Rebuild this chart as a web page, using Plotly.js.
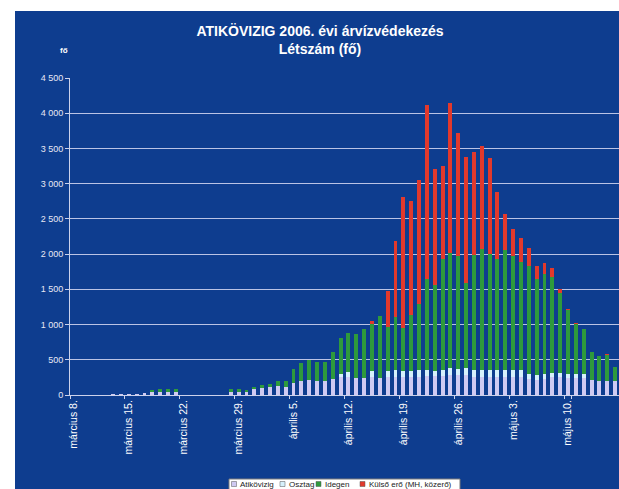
<!DOCTYPE html>
<html>
<head>
<meta charset="utf-8">
<script src="https://cdn.plot.ly/plotly-3.0.1.min.js"></script>
<style>html,body{margin:0;padding:0;background:#fff;}#chart{width:619px;height:489px;}</style>
</head>
<body>
<div id="chart"></div>
<script>
// Categories: one per day, 2006-03-08 .. 2006-05-16
const dates = [
  "március 8.","március 9.","március 10.","március 11.","március 12.","március 13.","március 14.",
  "március 15.","március 16.","március 17.","március 18.","március 19.","március 20.","március 21.",
  "március 22.","március 23.","március 24.","március 25.","március 26.","március 27.","március 28.",
  "március 29.","március 30.","március 31.","április 1.","április 2.","április 3.","április 4.",
  "április 5.","április 6.","április 7.","április 8.","április 9.","április 10.","április 11.",
  "április 12.","április 13.","április 14.","április 15.","április 16.","április 17.","április 18.",
  "április 19.","április 20.","április 21.","április 22.","április 23.","április 24.","április 25.",
  "április 26.","április 27.","április 28.","április 29.","április 30.","május 1.","május 2.",
  "május 3.","május 4.","május 5.","május 6.","május 7.","május 8.","május 9.",
  "május 10.","május 11.","május 12.","május 13.","május 14.","május 15.","május 16."
];
const tickLabels = ["március 8.","március 15.","március 22.","március 29.","április 5.",
  "április 12.","április 19.","április 26.","május 3.","május 10."];

const atikovizig = [
  5,5,5,5,5,8,8,
  8,10,30,40,45,45,45,
  5,5,5,5,5,5,40,
  40,40,85,100,115,130,120,
  165,200,210,200,205,225,250,
  250,245,245,250,245,260,260,
  255,260,260,275,275,275,290,
  285,285,260,260,260,260,260,
  260,260,225,220,225,250,250,
  240,240,235,215,195,195,195
];
const osztag = [
  0,0,0,0,0,0,0,
  0,0,0,0,0,0,0,
  0,0,0,0,0,0,0,
  0,0,0,0,0,0,0,
  0,0,0,0,0,0,50,
  80,0,0,85,0,80,95,
  85,85,95,80,70,85,100,
  90,100,95,95,95,95,95,
  95,95,70,70,70,65,65,
  65,65,65,0,0,0,0
];
const idegen = [
  0,0,0,0,0,0,0,
  0,0,0,30,35,35,35,
  0,0,0,0,0,0,45,
  45,25,35,40,45,75,75,
  205,255,285,265,265,385,505,
  545,620,690,670,880,630,755,
  615,785,930,1290,1215,1565,1630,
  1600,1200,1635,1715,1650,1570,1700,
  1620,1540,1535,1355,1420,1355,1140,
  900,710,635,400,360,375,205
];
const kulsoEro = [
  0,0,0,0,0,0,0,
  0,0,0,0,0,0,0,
  0,0,0,0,0,0,0,
  0,0,0,0,0,0,0,
  0,0,0,0,0,0,0,
  0,0,0,45,0,510,1080,
  1850,1625,1765,2475,1655,1325,2120,
  1750,1790,1465,1470,1360,955,510,
  380,340,260,180,165,140,45,
  10,10,0,0,0,10,0
];
const seriesNames = ["Atikövizig","Osztag","Idegen","Külső erő (MH, közerő)"];
const seriesColors = ["#cfcaf2","#d6f1fb","#2e9a3c","#e2392c"];

const W = 619, H = 489, ML = 70, MR = 0, MT = 78, MB = 94;
const PW = W - ML - MR, PH = H - MT - MB;
const px = v => (v - ML) / PW;          // pixel x -> paper x
const py = v => (H - MB - v) / PH;      // pixel y -> paper y

const seriesData = [atikovizig, osztag, idegen, kulsoEro];
const traces = seriesData.map((vals, i) => ({
  type: "bar",
  x: dates,
  y: vals,
  name: seriesNames[i],
  marker: {color: seriesColors[i], line: {width: 0}},
  hoverinfo: "x+y+name"
}));

const font = "Arial, 'Liberation Sans', sans-serif";
const light = "rgba(215,218,240,0.95)";

const shapes = [
  // blue chart area
  {type:"rect", xref:"paper", yref:"paper", x0:px(15), x1:px(W+5), y0:py(H+5), y1:py(11),
   fillcolor:"#0e3d8f", line:{width:0}, layer:"below"},
  // legend box
  {type:"rect", xref:"paper", yref:"paper", x0:px(229), x1:px(460), y0:py(496), y1:py(479),
   fillcolor:"#ffffff", line:{color:"#7a7a7a", width:1}, layer:"above"}
];
const legendX = [231.5, 280, 316, 360];
const legendTextX = [238, 287, 323, 367];
const annotations = [
  {xref:"paper", yref:"paper", x:px(58), y:py(50), yanchor:"middle", text:"<b>fő</b>", showarrow:false,
   font:{family:font, size:8, color:"#ffffff"}}
];
for (let i = 0; i < 4; i++) {
  shapes.push({type:"rect", xref:"paper", yref:"paper", x0:px(legendX[i]), x1:px(legendX[i]+5),
    y0:py(486.5), y1:py(481.5), fillcolor:seriesColors[i], line:{color:"#555", width:0.5}, layer:"above"});
  annotations.push({xref:"paper", yref:"paper", x:px(legendTextX[i]), y:py(484), xanchor:"left", yanchor:"middle",
    text:seriesNames[i], showarrow:false, font:{family:font, size:8, color:"#222222"}});
}

const layout = {
  width: W, height: H,
  margin: {l: ML, r: MR, t: MT, b: MB, pad: 0},
  paper_bgcolor: "#ffffff",
  plot_bgcolor: "rgba(0,0,0,0)",
  separators: ", ",
  barmode: "stack",
  bargap: 0.5,
  showlegend: false,
  font: {family: font, color: "#ffffff"},
  title: {
    text: "<b>ATIKÖVIZIG 2006. évi árvízvédekezés<br>Létszám (fő)</b>",
    font: {family: font, size: 14, color: "#ffffff"},
    xref: "container", yref: "container", x: 320 / W, xanchor: "center",
    y: 1 - 36 / H, yanchor: "top"
  },
  xaxis: {
    type: "category",
    categoryorder: "array", categoryarray: dates,
    tickmode: "array", tickvals: tickLabels, ticktext: tickLabels,
    tickson: "boundaries",
    range: [-0.5, dates.length - 0.5],
    tickangle: -90,
    tickfont: {family: font, size: 10.5, color: "#ffffff"},
    ticks: "outside", ticklen: 3, tickcolor: light,
    showline: true, linecolor: light, linewidth: 1,
    showgrid: false, zeroline: false, fixedrange: true
  },
  yaxis: {
    range: [0, 4500], dtick: 500, tick0: 0,
    tickformat: ",d",
    tickfont: {family: font, size: 9, color: "#e8e8f4"},
    ticks: "outside", ticklen: 4, tickcolor: light,
    showline: true, linecolor: light, linewidth: 1,
    showgrid: true, gridcolor: "rgba(205,210,238,0.9)", gridwidth: 1,
    zeroline: false, fixedrange: true
  },
  shapes: shapes,
  annotations: annotations
};

Plotly.newPlot("chart", traces, layout, {displayModeBar: false, staticPlot: true});
</script>
</body>
</html>
